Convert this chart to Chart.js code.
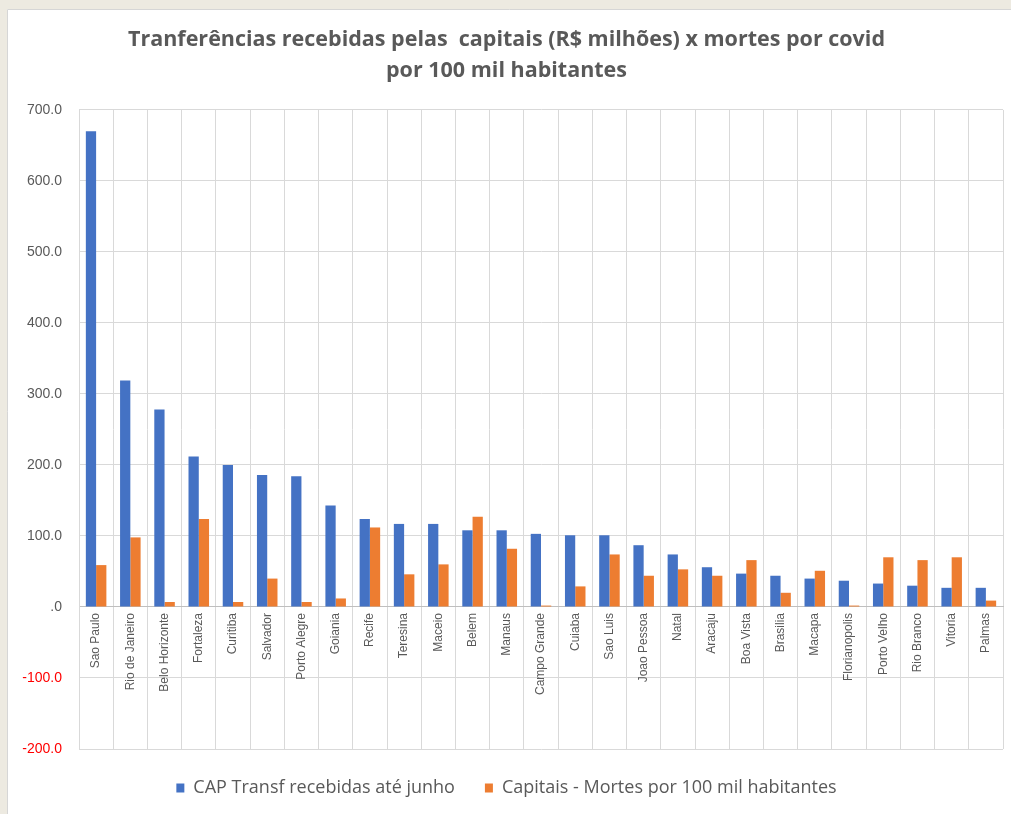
<!DOCTYPE html>
<html>
<head>
<meta charset="utf-8">
<script src="https://cdn.jsdelivr.net/npm/chart.js@4.4.1/dist/chart.umd.min.js"></script>
<style>
  html, body { margin: 0; padding: 0; background: #edeae1; }
  #wrap { position: absolute; left: 0; top: 0; width: 1011px; height: 814px; }
</style>
</head>
<body>
<div id="wrap"><canvas id="c" width="1011" height="814"></canvas></div>
<script>
const categories = ["Sao Paulo","Rio de Janeiro","Belo Horizonte","Fortaleza","Curitiba","Salvador","Porto Alegre","Goiania","Recife","Teresina","Maceio","Belem","Manaus","Campo Grande","Cuiaba","Sao Luis","Joao Pessoa","Natal","Aracaju","Boa Vista","Brasilia","Macapa","Florianopolis","Porto Velho","Rio Branco","Vitoria","Palmas"];
const transfRecebidas = [670,319,278,212,200,186,184,143,124,117,117,108,108,103,101,101,87,74,56,47,44,40,37,33,30,27,27];
const mortesPor100mil = [59,98,7,124,7,40,7,12,112,46,60,127,82,2,29,74,44,53,44,66,20,51,2,70,66,70,9];
const seriesNames = ["CAP Transf recebidas até junho", "Capitais - Mortes por 100 mil habitantes"];
const titleLines = ["Tranferências recebidas pelas  capitais (R$ milhões) x mortes por covid", "por 100 mil habitantes"];
const yMin = -200, yMax = 700, yStep = 100;

const panelBg = {
  id: 'panelBg',
  beforeDraw(chart) {
    const ctx = chart.ctx;
    ctx.save();
    ctx.fillStyle = '#edeae1';
    ctx.fillRect(0, 0, chart.width, chart.height);
    ctx.fillStyle = '#ffffff';
    ctx.fillRect(7, 9, chart.width - 7, chart.height - 9);
    ctx.strokeStyle = '#d6d6d6';
    ctx.lineWidth = 1;
    ctx.beginPath();
    ctx.moveTo(7.5, chart.height);
    ctx.lineTo(7.5, 9.5);
    ctx.lineTo(chart.width, 9.5);
    ctx.stroke();
    ctx.restore();
  }
};

new Chart(document.getElementById('c'), {
  type: 'bar',
  data: {
    labels: categories,
    datasets: [
      { label: seriesNames[0], data: transfRecebidas, backgroundColor: '#4472c4', categoryPercentage: 0.6, barPercentage: 1.0 },
      { label: seriesNames[1], data: mortesPor100mil, backgroundColor: '#ed7d31', categoryPercentage: 0.6, barPercentage: 1.0 }
    ]
  },
  options: {
    responsive: false,
    animation: false,
    layout: { padding: { left: 10, right: 8, top: 9, bottom: 7 } },
    plugins: {
      title: {
        display: true,
        text: titleLines,
        color: '#595959',
        font: { family: '"Open Sans", Roboto, sans-serif', size: 21.5, weight: 'bold', lineHeight: 1.45 },
        padding: { top: 15.4, bottom: 23.2 }
      },
      legend: {
        position: 'bottom',
        labels: {
          color: '#595959',
          font: { family: '"Open Sans", Roboto, sans-serif', size: 18 },
          boxWidth: 8,
          boxHeight: 9,
          padding: 30
        }
      },
      tooltip: { enabled: false }
    },
    scales: {
      x: {
        position: { y: 0 },
        grid: { offset: true, color: '#d9d9d9', drawTicks: false },
        border: { color: '#bfbfbf' },
        ticks: {
          autoSkip: false, maxRotation: 90, minRotation: 90, padding: 6,
          color: '#595959',
          font: { family: '"Liberation Sans", Arial, sans-serif', size: 12 }
        }
      },
      y: {
        min: yMin, max: yMax,
        afterFit: (scale) => { scale.width = 69; },
        grid: { color: '#d9d9d9', drawTicks: false },
        border: { color: '#d9d9d9' },
        ticks: {
          stepSize: yStep,
          padding: 17,
          color: (c) => (c.tick && c.tick.value < 0) ? '#ff0000' : '#595959',
          font: { family: '"Liberation Sans", Arial, sans-serif', size: 14 },
          callback: (v) => v === 0 ? '.0' : Number(v).toFixed(1)
        }
      }
    }
  },
  plugins: [panelBg]
});
</script>
</body>
</html>
